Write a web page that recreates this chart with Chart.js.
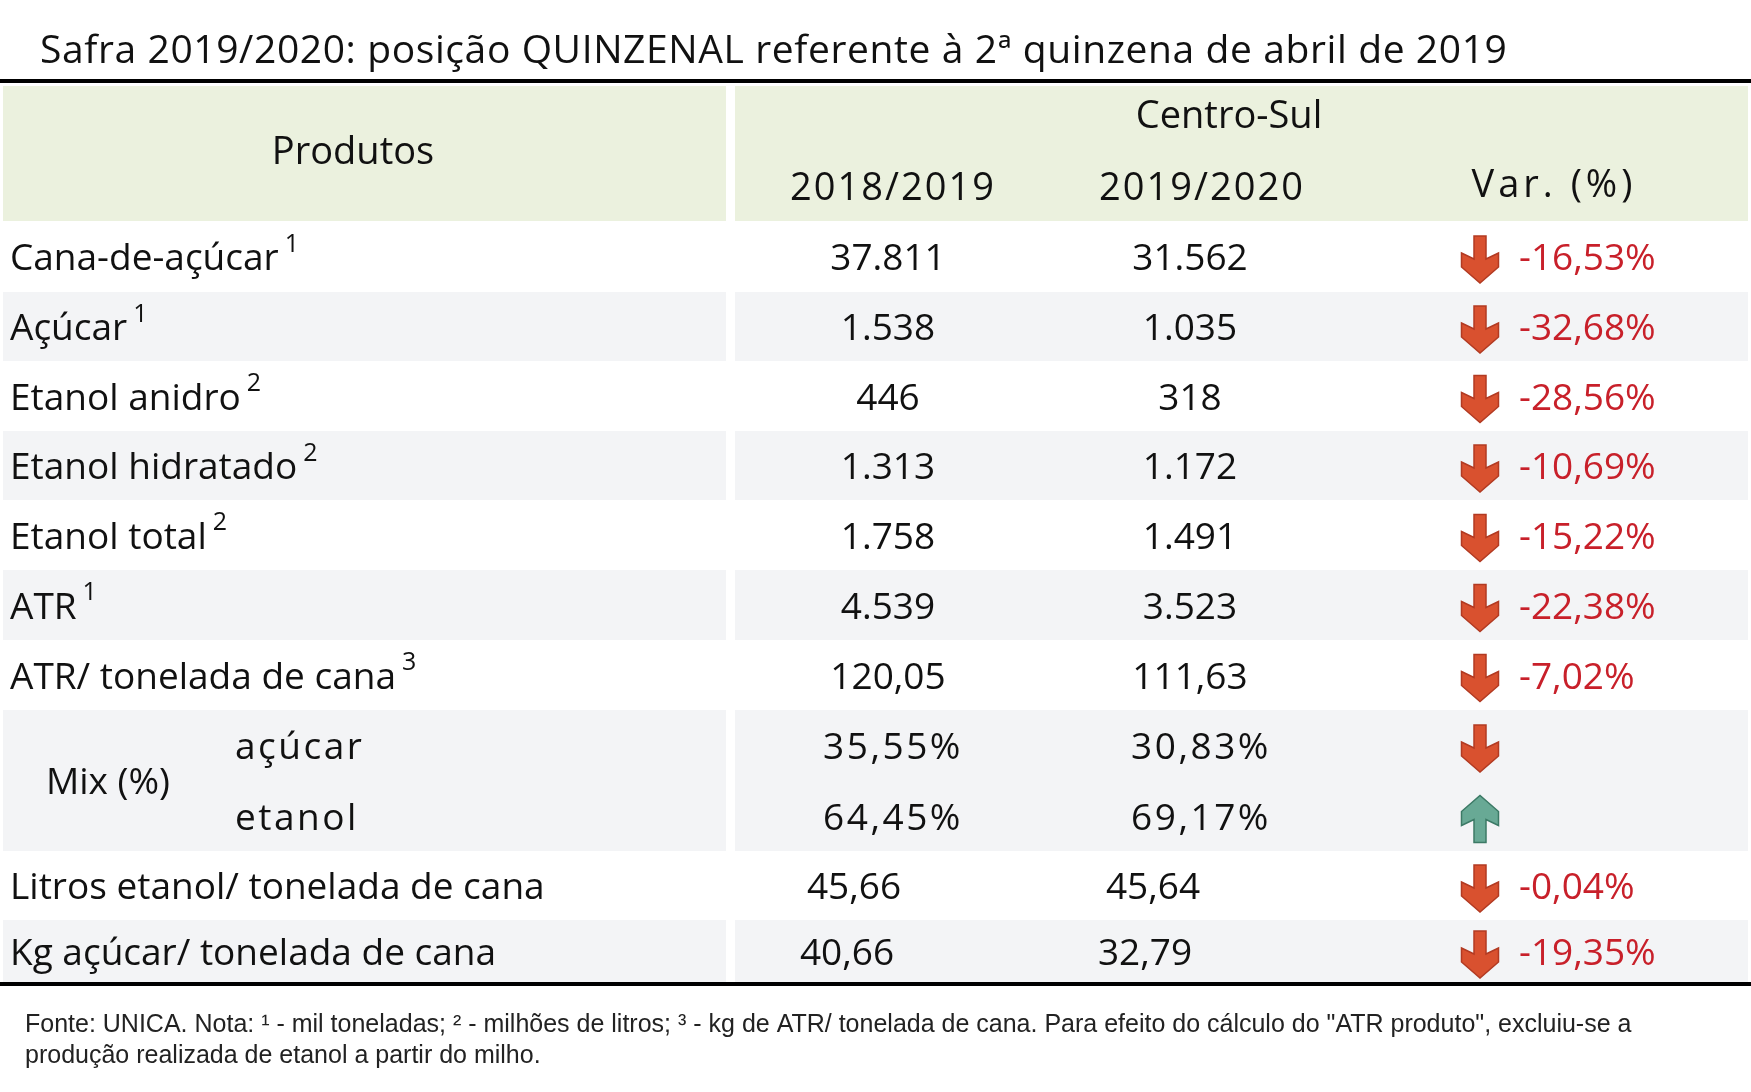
<!DOCTYPE html>
<html lang="pt">
<head>
  <meta charset="utf-8">
  <title>Safra 2019/2020</title>
  <script src="https://cdn.jsdelivr.net/npm/chart.js"></script>
  <style>
    body { margin: 0; background: #fff; }
    #wrap { width: 1751px; height: 1092px; }
  </style>
</head>
<body>
  <div id="wrap"><canvas id="table"></canvas></div>
  <script>
    // table content
    const products = ['Cana-de-açúcar', 'Açúcar', 'Etanol anidro', 'Etanol hidratado', 'Etanol total', 'ATR',
      'ATR/ tonelada de cana', 'açúcar', 'etanol', 'Litros etanol/ tonelada de cana', 'Kg açúcar/ tonelada de cana'];
    const notes = ['1', '1', '2', '2', '2', '1', '3', '', '', '', ''];
    const safra1819 = ['37.811', '1.538', '446', '1.313', '1.758', '4.539', '120,05', '35,55%', '64,45%', '45,66', '40,66'];
    const safra1920 = ['31.562', '1.035', '318', '1.172', '1.491', '3.523', '111,63', '30,83%', '69,17%', '45,64', '32,79'];
    const variation = ['-16,53%', '-32,68%', '-28,56%', '-10,69%', '-15,22%', '-22,38%', '-7,02%', '', '', '-0,04%', '-19,35%'];
    const direction = ['down', 'down', 'down', 'down', 'down', 'down', 'down', 'down', 'up', 'down', 'down'];
    const headers = ['2018/2019', '2019/2020', 'Var. (%)'];

    const FONT = '"Open Sans", "Noto Sans", sans-serif';
    // row band edges (in canvas units)
    const rowTop = [221, 292, 361, 431, 500, 570, 640, 710, 781, 851, 920];
    const rowBottom = 983;
    const shaded = [false, true, false, true, false, true, false, true, true, false, true];

    function rowCenter(i) {
      const b = i < rowTop.length - 1 ? rowTop[i + 1] : rowBottom;
      return (rowTop[i] + b) / 2 + 3;
    }

    function drawArrow(ctx, x, y, up) {
      const w = 37, h = 47, sw = 12;
      ctx.save();
      ctx.translate(x, y);
      if (up) ctx.scale(1, -1);
      ctx.beginPath();
      ctx.moveTo(-sw / 2, -h / 2);
      ctx.lineTo(sw / 2, -h / 2);
      ctx.lineTo(sw / 2, h / 2 - 24);
      ctx.lineTo(w / 2, h / 2 - 30);
      ctx.lineTo(w / 2, h / 2 - 16);
      ctx.lineTo(0, h / 2);
      ctx.lineTo(-w / 2, h / 2 - 16);
      ctx.lineTo(-w / 2, h / 2 - 30);
      ctx.lineTo(-sw / 2, h / 2 - 24);
      ctx.closePath();
      ctx.fillStyle = up ? '#68a995' : '#d9512f';
      ctx.strokeStyle = up ? '#3c7a66' : '#b23a22';
      ctx.lineWidth = 1.5;
      ctx.fill();
      ctx.stroke();
      ctx.restore();
    }

    const tablePlugin = {
      id: 'tablePlugin',
      afterDraw(chart) {
        const ctx = chart.ctx;
        const X = v => chart.scales.x.getPixelForValue(v);
        const Y = v => chart.scales.y.getPixelForValue(v);
        ctx.save();

        // title
        ctx.fillStyle = '#111';
        ctx.font = '39px ' + FONT;
        ctx.textBaseline = 'middle';
        ctx.textAlign = 'left';
        ctx.letterSpacing = '0.6px';
        ctx.fillText('Safra 2019/2020: posição QUINZENAL referente à 2ª quinzena de abril de 2019', X(40), Y(52));
        ctx.letterSpacing = '0px';

        // header background
        ctx.fillStyle = '#ebf1de';
        ctx.fillRect(X(3), Y(86), X(726) - X(3), Y(221) - Y(86));
        ctx.fillRect(X(735), Y(86), X(1748) - X(735), Y(221) - Y(86));

        // row shading
        ctx.fillStyle = '#f3f4f6';
        rowTop.forEach((t, i) => {
          if (!shaded[i]) return;
          const b = i < rowTop.length - 1 ? rowTop[i + 1] : rowBottom;
          ctx.fillRect(X(3), Y(t), X(726) - X(3), Y(b) - Y(t));
          ctx.fillRect(X(735), Y(t), X(1748) - X(735), Y(b) - Y(t));
        });

        // rules
        ctx.fillStyle = '#000';
        ctx.fillRect(X(0), Y(79), X(1751) - X(0), 4);
        ctx.fillRect(X(0), Y(982), X(1751) - X(0), 4);

        // headers
        ctx.fillStyle = '#111';
        ctx.font = '38px ' + FONT;
        ctx.textAlign = 'center';
        ctx.fillText('Produtos', X(353), Y(153));
        ctx.fillText('Centro-Sul', X(1229), Y(117));
        ctx.letterSpacing = '2px';
        ctx.fillText(headers[0], X(893), Y(189));
        ctx.fillText(headers[1], X(1202), Y(189));
        ctx.letterSpacing = '4px';
        ctx.fillText(headers[2], X(1554), Y(186));
        ctx.letterSpacing = '0px';

        // body
        products.forEach((p, i) => {
          const cy = Y(rowCenter(i));
          const mix = i === 7 || i === 8;
          ctx.fillStyle = '#111';
          ctx.font = '37px ' + FONT;
          ctx.textAlign = 'left';
          ctx.letterSpacing = mix ? '2.5px' : '0px';
          const lx = mix ? X(235) : X(10);
          ctx.fillText(p, lx, cy);
          if (notes[i]) {
            const w = ctx.measureText(p).width;
            ctx.font = '25px ' + FONT;
            ctx.fillText(notes[i], lx + w + 6, cy - 15);
          }
          ctx.font = '37px ' + FONT;
          ctx.textAlign = 'center';
          let c1 = 888, c2 = 1190;
          if (i === 9) { c1 = 854; c2 = 1153; }
          if (i === 10) { c1 = 847; c2 = 1145; }
          if (mix) { c1 = 893; c2 = 1201; }
          ctx.fillText(safra1819[i], X(c1), cy);
          ctx.fillText(safra1920[i], X(c2), cy);
          ctx.letterSpacing = '0px';
          drawArrow(ctx, X(1480), cy, direction[i] === 'up');
          if (variation[i]) {
            ctx.fillStyle = '#c8202a';
            ctx.textAlign = 'left';
            ctx.fillText(variation[i], X(1519), cy);
          }
        });
        ctx.fillStyle = '#111';
        ctx.textAlign = 'left';
        ctx.font = '37px ' + FONT;
        ctx.fillText('Mix (%)', X(46), Y(783));

        // footnote
        ctx.font = '25px "Liberation Sans", Arial, sans-serif';
        ctx.fillStyle = '#222';
        ctx.fillText('Fonte: UNICA. Nota: ¹ - mil toneladas; ² - milhões de litros; ³ - kg de ATR/ tonelada de cana. Para efeito do cálculo do "ATR produto", excluiu-se a', X(25), Y(1025));
        ctx.fillText('produção realizada de etanol a partir do milho.', X(25), Y(1056));
        ctx.restore();
      }
    };

    new Chart(document.getElementById('table'), {
      type: 'scatter',
      data: { datasets: [{ data: [] }] },
      options: {
        responsive: true,
        maintainAspectRatio: false,
        animation: false,
        layout: { padding: 0 },
        plugins: { legend: { display: false }, tooltip: { enabled: false } },
        scales: {
          x: { type: 'linear', min: 0, max: 1751, display: false },
          y: { type: 'linear', min: 0, max: 1092, reverse: true, display: false }
        }
      },
      plugins: [tablePlugin]
    });
  </script>
</body>
</html>
